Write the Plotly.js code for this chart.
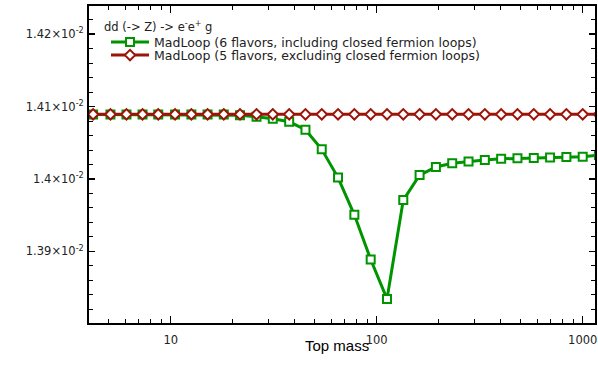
<!DOCTYPE html>
<html>
<head>
<meta charset="utf-8">
<script src="https://cdn.plot.ly/plotly-3.0.1.min.js"></script>
<style>
  body { margin: 0; background: #fff; }
  #graph { width: 598px; height: 368px; }
</style>
</head>
<body>
<div id="graph"></div>
<script>
// top quark mass scan (GeV)
var topMass = [3.5, 4.2, 5.1, 6.1, 7.3, 8.7, 10.5, 12.6, 15.1, 18.1, 21.7, 26.1,
               31.3, 37.6, 45.1, 54.1, 64.9, 77.9, 93.5, 112.2, 134.6, 161.5,
               193.8, 232.6, 279.1, 334.9, 401.9, 482.3, 578.7, 694.4, 833.3, 1000, 1200];

// 6 flavours, with closed fermion loops
var sixFlavors = [0.0140891, 0.0140891, 0.0140891, 0.0140891, 0.0140891, 0.0140891,
                  0.0140891, 0.0140891, 0.0140891, 0.0140891, 0.0140881, 0.0140859,
                  0.0140831, 0.0140790, 0.0140681, 0.0140409, 0.0140019, 0.0139505,
                  0.0138888, 0.0138343, 0.0139708, 0.0140054, 0.0140165, 0.0140216,
                  0.0140243, 0.0140261, 0.0140278, 0.0140285, 0.0140289, 0.0140296,
                  0.0140303, 0.0140307, 0.0140331];

// 5 flavours, no closed fermion loops
var fiveFlavors = [0.0140893, 0.0140893, 0.0140893, 0.0140893, 0.0140893, 0.0140893,
                   0.0140893, 0.0140893, 0.0140893, 0.0140893, 0.0140893, 0.0140893,
                   0.0140893, 0.0140893, 0.0140893, 0.0140893, 0.0140893, 0.0140893,
                   0.0140893, 0.0140893, 0.0140893, 0.0140893, 0.0140893, 0.0140893,
                   0.0140893, 0.0140893, 0.0140893, 0.0140893, 0.0140893, 0.0140893,
                   0.0140893, 0.0140893, 0.0140893];

var yTicks = [0.0139, 0.0140, 0.0141, 0.0142];
var yTickText = ['1.39×10<sup>-2</sup>', '1.4×10<sup>-2</sup>',
                 '1.41×10<sup>-2</sup>', '1.42×10<sup>-2</sup>'];
var xTicks = [10, 100, 1000];
var xTickText = ['10', '100', '1000'];

var green = 'rgb(0,148,0)';
var red = 'rgb(155,20,10)';
var txt = '#222';

var data = [{x: topMass,
    y: sixFlavors,
    name: 'MadLoop (6 flavors, including closed fermion loops)',
    type: 'scatter',
    mode: 'lines+markers',
    legend: 'legend',
    line: {color: green, width: 3},
    marker: {symbol: 'square', size: 8, color: 'white', line: {color: green, width: 2}}
   },
   {x: topMass,
    y: fiveFlavors,
    name: 'MadLoop (5 flavors, excluding closed fermion loops)',
    type: 'scatter',
    mode: 'lines+markers',
    legend: 'legend2',
    line: {color: red, width: 3},
    marker: {symbol: 'diamond', size: 8, color: 'white', line: {color: red, width: 2}}
   }];

var axisCommon = {showline: true, linecolor: 'black', linewidth: 2, mirror: 'allticks',
    ticks: 'inside', tickcolor: 'black', tickwidth: 1.5, showgrid: false, zeroline: false,
    tickfont: {family: 'DejaVu Sans', size: 11.5, color: txt}};

var legendCommon = {xanchor: 'left', yanchor: 'top', itemwidth: 38,
    bgcolor: 'rgba(0,0,0,0)', borderwidth: 0,
    font: {family: 'DejaVu Sans', size: 12.5, color: txt}};

var layout = {width: 598, height: 368,
     margin: {l: 89, r: 3, t: 6, b: 45},
     paper_bgcolor: 'white', plot_bgcolor: 'white',
     showlegend: true,
     xaxis: Object.assign({}, axisCommon, {
        type: 'log', range: [0.6034, 3.0597],
        tickvals: xTicks, ticktext: xTickText, ticklen: 7,
        ticklabelstandoff: 5,
        minor: {ticks: 'inside', ticklen: 4, tickcolor: 'black', tickwidth: 1, dtick: 'D1', showgrid: false}
     }),
     yaxis: Object.assign({}, axisCommon, {
        range: [0.013801, 0.014239],
        tickvals: yTicks, ticktext: yTickText, ticklen: 6,
        ticklabelstandoff: 1,
        minor: {ticks: 'inside', ticklen: 4, tickcolor: 'black', tickwidth: 1, tick0: 0.0138, dtick: 0.00002, showgrid: false}
     }),
     legend: Object.assign({}, legendCommon, {x: 0.0336, y: 0.9322}),
     legend2: Object.assign({}, legendCommon, {x: 0.0336, y: 0.8912}),
     annotations: [
        {
          text: 'dd (-> Z) -> e<sup>-</sup>e<sup>+</sup> g',
          showarrow: false,
          x: 0.0257,
          y: 0.9338,
          xref: 'paper',
          yref: 'paper',
          xanchor: 'left',
          yanchor: 'middle',
          font: {family: 'DejaVu Sans', size: 11.5, color: txt}
        },
        {
          text: 'Top mass',
          showarrow: false,
          x: 0.49,
          y: -0.072,
          xref: 'paper',
          yref: 'paper',
          yanchor: 'middle',
          font: {family: 'Liberation Sans', size: 15, color: 'black'}
        }
     ]
    };

Plotly.newPlot('graph', data, layout, {displayModeBar: false, staticPlot: true});
</script>
</body>
</html>
